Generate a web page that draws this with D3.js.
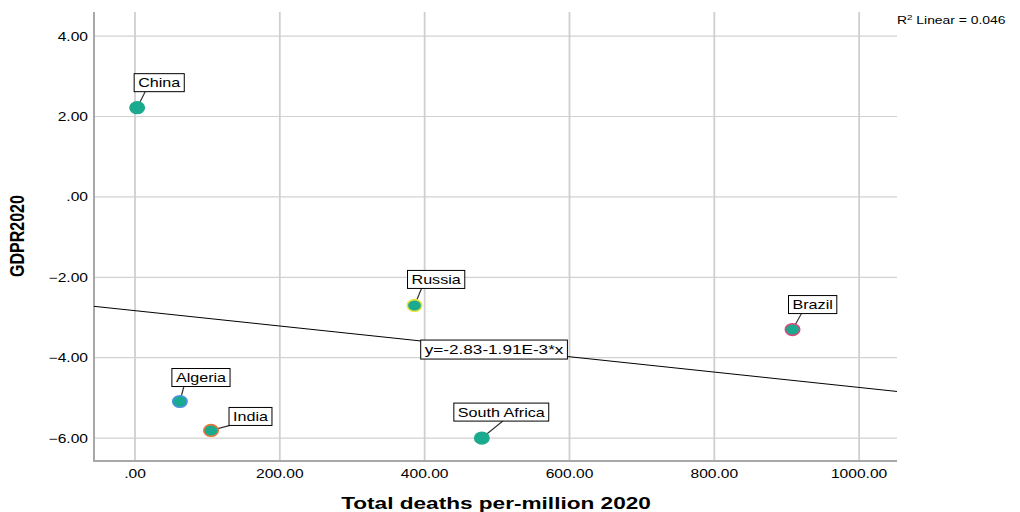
<!DOCTYPE html>
<html>
<head>
<meta charset="utf-8">
<script src="https://cdn.jsdelivr.net/npm/d3@7"></script>
<style>
  html, body { margin: 0; padding: 0; background: #fff; }
  svg { display: block; font-family: Arial, "Liberation Sans", sans-serif; }
</style>
</head>
<body>
<svg id="chart" width="1020" height="512"></svg>
<script>
// Countries, deaths per million (2020) and GDP growth rate (2020)
const countries = ["China", "Russia", "Brazil", "Algeria", "India", "South Africa"];
const deathsPerMillion = [3, 386, 908, 62, 105, 479];
const gdpGrowth = [2.22, -2.70, -3.30, -5.09, -5.81, -6.00];
const outlineColors = ["#1faa8c", "#e6e33a", "#d94a7a", "#4b92e0", "#e2773a", "#1faa8c"];

// Linear fit reported on the chart
const fitIntercept = -2.83;
const fitSlope = -1.91e-3;
const rSquared = 0.046;

const xTicks = [0, 200, 400, 600, 800, 1000];
const yTicks = [4, 2, 0, -2, -4, -6];

// Label placement around each marker: box left/bottom offset and leader anchor
const labelPlacement = [
  { dx: -3, dy: -16, ax: 11 },
  { dx: -7, dy: -17, ax: 14 },
  { dx: -4, dy: -16, ax: 13 },
  { dx: -8, dy: -15, ax: 12 },
  { dx: 18, dy: -5, ax: 1 },
  { dx: -28, dy: -17, ax: 49 }
];

const SX = 1.3; // horizontal text stretch
const fmt = v => {
  const s = d3.format(".2f")(v);
  return s.replace(/^(-?)0\./, "$1.");
};

const svg = d3.select("#chart");
const plotLeft = 94, plotRight = 897, plotTop = 12, plotBottom = 461;

const x = d3.scaleLinear().domain([-56.6, 1052.3]).range([plotLeft, plotRight]);
const y = d3.scaleLinear().domain([-6.57, 4.6]).range([plotBottom, plotTop]);

// stretched text helper
function stretchedText(g, tx, ty, str, opts) {
  const t = g.append("text")
    .attr("transform", `translate(${tx},${ty}) scale(${SX},1)` + (opts.rotate ? ` rotate(${opts.rotate})` : ""))
    .attr("text-anchor", opts.anchor || "start")
    .attr("font-size", opts.size)
    .attr("font-weight", opts.weight || "normal")
    .attr("fill", "#000")
    .text(str);
  return t;
}

// grid
const grid = svg.append("g");
grid.selectAll("line.h").data(yTicks).join("line")
  .attr("x1", plotLeft).attr("x2", plotRight)
  .attr("y1", d => y(d)).attr("y2", d => y(d))
  .attr("stroke", "#d2d2d2").attr("stroke-width", 1.2);
grid.selectAll("line.v").data(xTicks).join("line")
  .attr("x1", d => x(d)).attr("x2", d => x(d))
  .attr("y1", plotTop).attr("y2", plotBottom)
  .attr("stroke", "#cfcfcf").attr("stroke-width", 1.8);

// axes lines
svg.append("line").attr("x1", plotLeft).attr("x2", plotLeft).attr("y1", plotTop).attr("y2", plotBottom + 1)
  .attr("stroke", "#a8a8a8").attr("stroke-width", 2);
svg.append("line").attr("x1", plotLeft - 1).attr("x2", plotRight).attr("y1", plotBottom).attr("y2", plotBottom)
  .attr("stroke", "#a8a8a8").attr("stroke-width", 2);

// tick labels
const tl = svg.append("g");
yTicks.forEach(v => stretchedText(tl, 88, y(v) + 4.5, fmt(v), { anchor: "end", size: 12 }));
xTicks.forEach(v => stretchedText(tl, x(v), 478, fmt(v), { anchor: "middle", size: 12 }));

// axis titles
stretchedText(svg, 24, 236, "GDPR2020", { anchor: "middle", size: 16, weight: "bold", rotate: -90 });
stretchedText(svg, 496, 509, "Total deaths per-million 2020", { anchor: "middle", size: 17.4, weight: "bold" });

// fit line
const xd = x.domain();
const line = d3.line().x(d => x(d)).y(d => y(fitIntercept + fitSlope * d));
svg.append("path").attr("d", line(xd)).attr("fill", "none").attr("stroke", "#000").attr("stroke-width", 1);

// boxed label helper
function boxedLabel(g, bx, bBottom, str, size, h) {
  const grp = g.append("g");
  const rect = grp.append("rect");
  const t = stretchedText(grp, 0, 0, str, { anchor: "start", size: size });
  const w = t.node().getComputedTextLength() * SX + 8;
  rect.attr("x", bx).attr("y", bBottom - h).attr("width", w).attr("height", h)
    .attr("fill", "#fff").attr("stroke", "#000").attr("stroke-width", 1);
  t.attr("transform", `translate(${bx + 4},${bBottom - h / 2 + size * 0.36}) scale(${SX},1)`);
  return w;
}

// equation label, centred on the fit line
const eqX = 500;
const eqStr = `y=${fitIntercept}-${d3.format(".2f")(-fitSlope * 1000)}E-3*x`;
{
  const g = svg.append("g");
  const tmp = stretchedText(g, 0, 0, eqStr, { size: 13.2 });
  const w = tmp.node().getComputedTextLength() * SX + 8;
  tmp.remove();
  const cy = y(fitIntercept + fitSlope * eqX);
  boxedLabel(g, x(eqX) - w / 2 - 3, cy + 10, eqStr, 13.2, 19);
}

// R squared note
{
  const t = svg.append("text")
    .attr("transform", `translate(897,24) scale(${SX},1)`)
    .attr("font-size", 10.7).attr("fill", "#000");
  t.append("tspan").text("R");
  t.append("tspan").attr("font-size", 7.5).attr("dy", -4).text("2");
  t.append("tspan").attr("dy", 4).text(" Linear = " + d3.format(".3f")(rSquared));
}

// points, leaders, labels
const pts = countries.map((c, i) => ({
  name: c, dx: deathsPerMillion[i], gy: gdpGrowth[i], stroke: outlineColors[i], lp: labelPlacement[i]
}));

const lab = svg.append("g");
pts.forEach(p => {
  const px = x(p.dx), py = y(p.gy);
  const bx = px + p.lp.dx, bb = py + p.lp.dy;
  lab.append("line").attr("x1", px).attr("y1", py).attr("x2", bx + p.lp.ax).attr("y2", bb)
    .attr("stroke", "#333").attr("stroke-width", 1.2);
  boxedLabel(lab, bx, bb, p.name, 12.4, 18);
});

svg.append("g").selectAll("ellipse").data(pts).join("ellipse")
  .attr("cx", d => x(d.dx)).attr("cy", d => y(d.gy))
  .attr("rx", 7.2).attr("ry", 5.8)
  .attr("fill", "#1aaa90")
  .attr("stroke", d => d.stroke).attr("stroke-width", 1.6);
</script>
</body>
</html>
